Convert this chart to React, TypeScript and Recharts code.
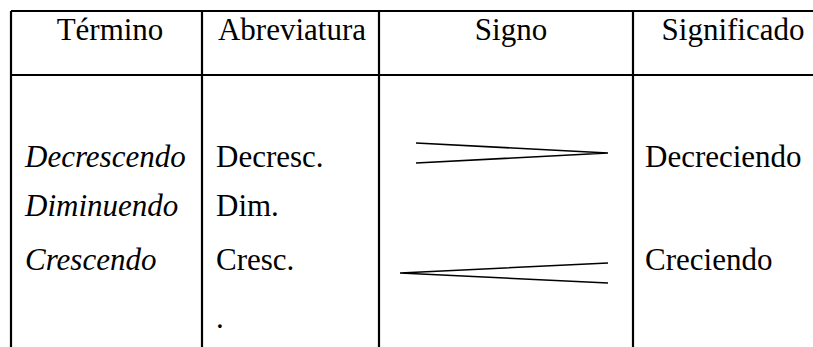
import React from "react";
import { ComposedChart, XAxis, YAxis, Line, Scatter, ReferenceLine } from "recharts";

const CHART_W = 813;
const CHART_H = 347;

// Table content
const headerLabels = ["Término", "Abreviatura", "Signo", "Significado"];
const headerCenters = [110, 292, 511, 733];
const headerBaseline = 40;

const termNames = ["Decrescendo", "Diminuendo", "Crescendo"];
const abbreviations = ["Decresc.", "Dim.", "Cresc.", "."];
const meanings = ["Decreciendo", "", "Creciendo"];
const rowBaselines = [167, 216, 270, 328];
const termColumnX = 25;
const abbrColumnX = 216;
const meaningColumnX = 645;

// Table rules (in chart units)
const columnRules = [11, 202, 379, 633];
const tableTop = 11;
const headerRule = 75;

// Hairpin signs
const decrescendoSign = [
  { x: 416, y: 143 },
  { x: 608, y: 153 },
  { x: 416, y: 163 },
];
const crescendoSign = [
  { x: 608, y: 263 },
  { x: 400, y: 273 },
  { x: 608, y: 283 },
];

type Cell = { x: number; y: number; text: string; italic?: boolean; anchor?: string };

const cells: Cell[] = [
  ...headerLabels.map((t, i) => ({ x: headerCenters[i], y: headerBaseline, text: t, anchor: "middle" })),
  ...termNames.map((t, i) => ({ x: termColumnX, y: rowBaselines[i], text: t, italic: true, anchor: "start" })),
  ...abbreviations.map((t, i) => ({ x: abbrColumnX, y: rowBaselines[i], text: t, anchor: "start" })),
  ...meanings
    .map((t, i) => ({ x: meaningColumnX, y: rowBaselines[i], text: t, anchor: "start" }))
    .filter((c) => c.text !== ""),
];

const SERIF = "'Liberation Serif', 'Times New Roman', 'DejaVu Serif', serif";

const TextShape = (props: any) => {
  const { cx, cy, payload } = props;
  if (cx == null || cy == null) return null;
  return (
    <text
      x={cx}
      y={cy}
      textAnchor={payload.anchor}
      style={{
        fontFamily: SERIF,
        fontSize: 31,
        fontStyle: payload.italic ? "italic" : "normal",
        fill: "#000",
      }}
    >
      {payload.text}
    </text>
  );
};

const RULE = { stroke: "#000", strokeWidth: 2.2, ifOverflow: "visible" as const };

export default function App() {
  return (
    <div style={{ position: "absolute", left: 0, top: 0, background: "#fff", fontFamily: SERIF }}>
      <ComposedChart
        width={CHART_W}
        height={CHART_H}
        margin={{ top: 0, right: 0, bottom: 0, left: 0 }}
        style={{ fontFamily: SERIF }}
      >
        <XAxis type="number" dataKey="x" domain={[0, CHART_W]} hide allowDataOverflow />
        <YAxis type="number" dataKey="y" domain={[0, CHART_H]} reversed hide allowDataOverflow />
        <ReferenceLine
          segment={[
            { x: columnRules[0], y: tableTop },
            { x: CHART_W, y: tableTop },
          ]}
          {...RULE}
        />
        <ReferenceLine
          segment={[
            { x: columnRules[0], y: headerRule },
            { x: CHART_W, y: headerRule },
          ]}
          {...RULE}
        />
        {columnRules.map((cx) => (
          <ReferenceLine
            key={cx}
            segment={[
              { x: cx, y: tableTop },
              { x: cx, y: CHART_H },
            ]}
            {...RULE}
          />
        ))}
        <Line
          data={decrescendoSign}
          dataKey="y"
          type="linear"
          stroke="#000"
          strokeWidth={1.6}
          dot={false}
          isAnimationActive={false}
        />
        <Line
          data={crescendoSign}
          dataKey="y"
          type="linear"
          stroke="#000"
          strokeWidth={1.6}
          dot={false}
          isAnimationActive={false}
        />
        <Scatter data={cells} dataKey="y" shape={<TextShape />} isAnimationActive={false} />
      </ComposedChart>
    </div>
  );
}
